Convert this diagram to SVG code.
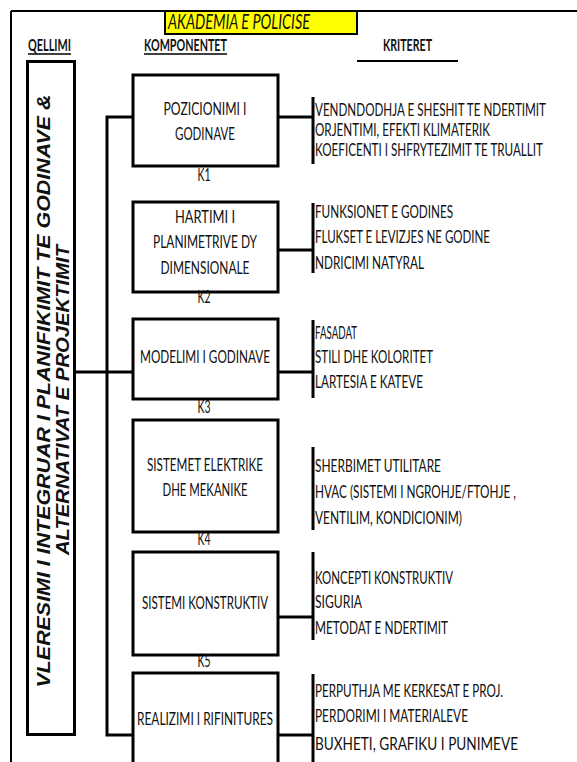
<svg xmlns="http://www.w3.org/2000/svg" width="577" height="762" viewBox="0 0 577 762">
  <style>
    .frame { stroke: #000; stroke-width: 2; fill: none; }
    .box { fill: #fff; stroke: #000; stroke-width: 3; }
    .wire { stroke: #000; stroke-width: 3; fill: none; }
    .t { font-family: Lato, "Liberation Sans", Arial, sans-serif; font-size: 16.5px; fill: #111; }
    .c { text-anchor: middle; }
    .hdr { font-family: Lato, "Liberation Sans", Arial, sans-serif; font-size: 17px; font-weight: bold; fill: #111; }
    .goal { font-family: "Liberation Sans", Arial, sans-serif; font-size: 19px; font-weight: bold; font-style: italic; fill: #111; text-anchor: middle; }
  </style>

  <!-- page frame -->
  <line class="frame" x1="11" y1="11" x2="577" y2="11"/>
  <line class="frame" x1="11" y1="11" x2="11" y2="762"/>

  <!-- title -->
  <g id="title">
    <rect x="165" y="11" width="192" height="23" fill="#ffff00" stroke="#000" stroke-width="2"/>
    <text x="168" y="29" font-family="Lato, Liberation Sans, Arial, sans-serif" font-size="22" font-style="italic" fill="#111" textLength="142" lengthAdjust="spacingAndGlyphs">AKADEMIA E POLICISE</text>
    <line x1="165" y1="11" x2="357" y2="11" stroke="#000" stroke-width="2"/>
  </g>

  <!-- column headers -->
  <g id="headers">
    <text class="hdr" x="28" y="51" textLength="43" lengthAdjust="spacingAndGlyphs">QELLIMI</text>
    <line x1="28" y1="54" x2="71" y2="54" stroke="#000" stroke-width="1.5"/>
    <text class="hdr" x="144" y="51" textLength="83" lengthAdjust="spacingAndGlyphs">KOMPONENTET</text>
    <line x1="144" y1="54" x2="227" y2="54" stroke="#000" stroke-width="1.5"/>
    <text class="hdr" x="383" y="51" textLength="49" lengthAdjust="spacingAndGlyphs">KRITERET</text>
    <line x1="357" y1="61" x2="458" y2="61" stroke="#000" stroke-width="2"/>
  </g>

  <!-- goal -->
  <g id="goal">
    <rect class="box" x="27.5" y="61.5" width="47" height="673"/>
    <text class="goal" transform="translate(50,391) rotate(-90)" textLength="593" lengthAdjust="spacingAndGlyphs">VLERESIMI I INTEGRUAR I PLANIFIKIMIT TE GODINAVE &amp;</text>
    <text class="goal" transform="translate(69,400) rotate(-90)" textLength="310" lengthAdjust="spacingAndGlyphs">ALTERNATIVAT E PROJEKTIMIT</text>
  </g>

  <!-- connectors -->
  <g id="connectors">
    <polyline class="wire" points="133,117 107,117 107,735 133,735"/>
    <line class="wire" x1="74" y1="372" x2="133" y2="372"/>
    <!-- K1 -->
    <line class="wire" x1="278" y1="117" x2="313" y2="117"/>
    <line class="wire" x1="313" y1="97" x2="313" y2="164"/>
    <!-- K2 -->
    <line class="wire" x1="278" y1="250" x2="313" y2="250"/>
    <line class="wire" x1="313" y1="203" x2="313" y2="273"/>
    <!-- K3 -->
    <line class="wire" x1="278" y1="372" x2="313" y2="372"/>
    <line class="wire" x1="313" y1="320" x2="313" y2="398"/>
    <!-- K4 -->
    <line class="wire" x1="313" y1="447" x2="313" y2="530"/>
    <!-- K5 -->
    <line class="wire" x1="278" y1="617" x2="313" y2="617"/>
    <line class="wire" x1="313" y1="552" x2="313" y2="640"/>
    <!-- K6 -->
    <line class="wire" x1="278" y1="735" x2="313" y2="735"/>
    <line class="wire" x1="313" y1="674" x2="313" y2="762"/>
  </g>

  <!-- K1 -->
  <g id="k1">
    <rect class="box" x="133" y="75" width="145" height="91"/>
    <text class="t c" x="205" y="115" textLength="83" lengthAdjust="spacingAndGlyphs">POZICIONIMI I</text>
    <text class="t c" x="205" y="140" textLength="60" lengthAdjust="spacingAndGlyphs">GODINAVE</text>
    <text class="t c" x="204" y="181" textLength="13" lengthAdjust="spacingAndGlyphs">K1</text>
    <text class="t" x="315" y="116" textLength="231" lengthAdjust="spacingAndGlyphs">VENDNDODHJA E SHESHIT TE NDERTIMIT</text>
    <text class="t" x="315" y="136" textLength="175" lengthAdjust="spacingAndGlyphs">ORJENTIMI, EFEKTI KLIMATERIK</text>
    <text class="t" x="315" y="156" textLength="228" lengthAdjust="spacingAndGlyphs">KOEFICENTI I SHFRYTEZIMIT TE TRUALLIT</text>
  </g>

  <!-- K2 -->
  <g id="k2">
    <rect class="box" x="133" y="202" width="145" height="90"/>
    <text class="t c" x="205" y="223" textLength="60" lengthAdjust="spacingAndGlyphs">HARTIMI I</text>
    <text class="t c" x="205" y="248" textLength="104" lengthAdjust="spacingAndGlyphs">PLANIMETRIVE DY</text>
    <text class="t c" x="205" y="274" textLength="89" lengthAdjust="spacingAndGlyphs">DIMENSIONALE</text>
    <text class="t c" x="204" y="303" textLength="13" lengthAdjust="spacingAndGlyphs">K2</text>
    <text class="t" x="315" y="218" textLength="138" lengthAdjust="spacingAndGlyphs">FUNKSIONET E GODINES</text>
    <text class="t" x="315" y="243" textLength="175" lengthAdjust="spacingAndGlyphs">FLUKSET E LEVIZJES NE GODINE</text>
    <text class="t" x="315" y="269" textLength="109" lengthAdjust="spacingAndGlyphs">NDRICIMI NATYRAL</text>
  </g>

  <!-- K3 -->
  <g id="k3">
    <rect class="box" x="133" y="319" width="145" height="80"/>
    <text class="t c" x="205" y="363" textLength="130" lengthAdjust="spacingAndGlyphs">MODELIMI I GODINAVE</text>
    <text class="t c" x="204" y="413" textLength="13" lengthAdjust="spacingAndGlyphs">K3</text>
    <text class="t" x="315" y="339" textLength="42" lengthAdjust="spacingAndGlyphs">FASADAT</text>
    <text class="t" x="315" y="363" textLength="118" lengthAdjust="spacingAndGlyphs">STILI DHE KOLORITET</text>
    <text class="t" x="315" y="388" textLength="108" lengthAdjust="spacingAndGlyphs">LARTESIA E KATEVE</text>
  </g>

  <!-- K4 -->
  <g id="k4">
    <rect class="box" x="133" y="420" width="145" height="112"/>
    <text class="t c" x="205" y="471" textLength="116" lengthAdjust="spacingAndGlyphs">SISTEMET ELEKTRIKE</text>
    <text class="t c" x="205" y="496" textLength="85" lengthAdjust="spacingAndGlyphs">DHE MEKANIKE</text>
    <text class="t c" x="204" y="545" textLength="13" lengthAdjust="spacingAndGlyphs">K4</text>
    <text class="t" x="315" y="472" textLength="126" lengthAdjust="spacingAndGlyphs">SHERBIMET UTILITARE</text>
    <text class="t" x="315" y="498" textLength="201" lengthAdjust="spacingAndGlyphs">HVAC (SISTEMI I NGROHJE/FTOHJE ,</text>
    <text class="t" x="315" y="524" textLength="147" lengthAdjust="spacingAndGlyphs">VENTILIM, KONDICIONIM)</text>
  </g>

  <!-- K5 -->
  <g id="k5">
    <rect class="box" x="133" y="552" width="145" height="103"/>
    <text class="t c" x="205" y="609" textLength="126" lengthAdjust="spacingAndGlyphs">SISTEMI KONSTRUKTIV</text>
    <text class="t c" x="204" y="667" textLength="13" lengthAdjust="spacingAndGlyphs">K5</text>
    <text class="t" x="315" y="584" textLength="138" lengthAdjust="spacingAndGlyphs">KONCEPTI KONSTRUKTIV</text>
    <text class="t" x="315" y="608" textLength="47" lengthAdjust="spacingAndGlyphs">SIGURIA</text>
    <text class="t" x="315" y="634" textLength="133" lengthAdjust="spacingAndGlyphs">METODAT E NDERTIMIT</text>
  </g>

  <!-- K6 -->
  <g id="k6">
    <rect class="box" x="133" y="673" width="145" height="100"/>
    <text class="t c" x="205" y="725" textLength="136" lengthAdjust="spacingAndGlyphs">REALIZIMI I RIFINITURES</text>
    <text class="t" x="315" y="697" textLength="188" lengthAdjust="spacingAndGlyphs">PERPUTHJA ME KERKESAT E PROJ.</text>
    <text class="t" x="315" y="722" textLength="153" lengthAdjust="spacingAndGlyphs">PERDORIMI I MATERIALEVE</text>
    <text class="t" x="315" y="750" textLength="203" lengthAdjust="spacingAndGlyphs">BUXHETI, GRAFIKU I PUNIMEVE</text>
  </g>
</svg>
